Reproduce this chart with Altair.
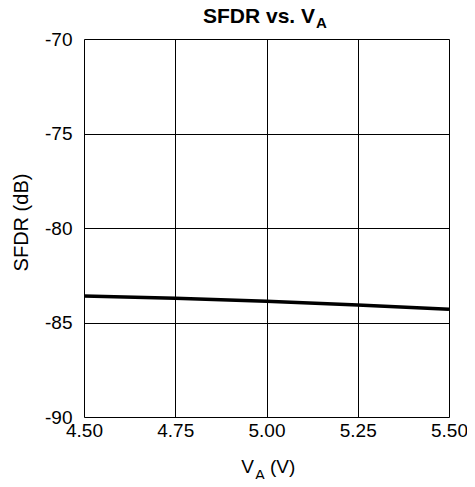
import altair as alt
import pandas as pd

va = [4.50, 4.75, 5.00, 5.25, 5.50]
sfdr = [-83.6, -83.72, -83.88, -84.08, -84.3]

df = pd.DataFrame({"va": va, "sfdr": sfdr})
one = pd.DataFrame({"k": [0]})
FONT = "Liberation Sans"

x = alt.X("va:Q", scale=alt.Scale(domain=[4.5, 5.5], nice=False),
          axis=alt.Axis(values=[4.5, 4.75, 5.0, 5.25, 5.5], format=".2f",
                        title=None, grid=True, gridColor="black", gridOpacity=1,
                        ticks=False, domain=False, labelFont=FONT, labelFontSize=19,
                        labelColor="black", labelPadding=4,
                        labelFlush=False))
y = alt.Y("sfdr:Q", scale=alt.Scale(domain=[-90, -70], nice=False),
          axis=alt.Axis(values=[-90, -85, -80, -75, -70], title="SFDR (dB)",
                        labelExpr="replace(datum.label, '\u2212', '-')",
                        grid=True, gridColor="black", gridOpacity=1,
                        ticks=False, domain=False, labelFont=FONT, labelFontSize=19,
                        labelColor="black", labelPadding=12,
                        titleFont=FONT, titleFontSize=20, titleFontWeight="normal",
                        titleColor="black", titlePadding=13, titleY=183))

line = alt.Chart(df).mark_line(color="black", strokeWidth=3.5).encode(x=x, y=y)

title_main = alt.Chart(one).mark_text(
    text="SFDR vs. V", font=FONT, fontSize=21, fontWeight="bold", align="right",
    baseline="alphabetic", color="black").encode(x=alt.value(231), y=alt.value(-16))
title_sub = alt.Chart(one).mark_text(
    text="A", font=FONT, fontSize=15, fontWeight="bold", align="left",
    baseline="alphabetic", color="black").encode(x=alt.value(232), y=alt.value(-11))

xt_main = alt.Chart(one).mark_text(
    text="V", font=FONT, fontSize=19, fontWeight="normal", align="right",
    baseline="alphabetic", color="black").encode(x=alt.value(170), y=alt.value(434))
xt_sub = alt.Chart(one).mark_text(
    text="A", font=FONT, fontSize=15, fontWeight="normal", align="left",
    baseline="alphabetic", color="black").encode(x=alt.value(171), y=alt.value(441))
xt_rest = alt.Chart(one).mark_text(
    text="(V)", font=FONT, fontSize=19, fontWeight="normal", align="left",
    baseline="alphabetic", color="black").encode(x=alt.value(186), y=alt.value(434))

chart = alt.layer(line, title_main, title_sub, xt_main, xt_sub, xt_rest).properties(
    width=365, height=378,
    autosize=alt.AutoSizeParams(type="none"),
    padding={"left": 76, "top": 31, "right": 18, "bottom": 62},
).configure_view(stroke="black", strokeWidth=1.5).configure(background="white")

chart.save("out.html", embed_options={"renderer": "svg", "actions": False})
